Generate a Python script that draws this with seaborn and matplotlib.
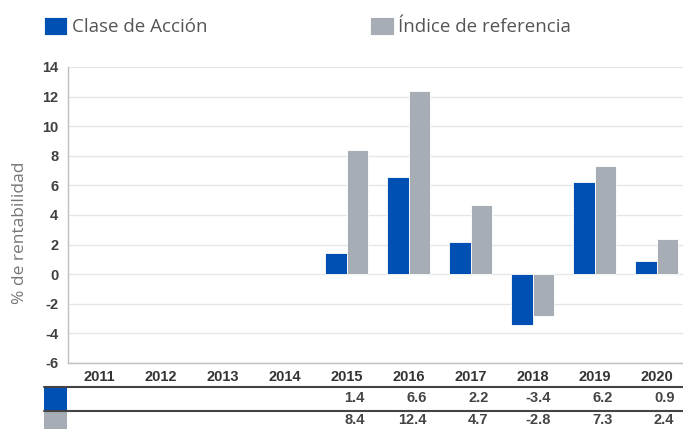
import numpy as np
import pandas as pd
import seaborn as sns
import matplotlib
matplotlib.use("Agg")
import matplotlib.pyplot as plt
from matplotlib.patches import Rectangle
from matplotlib.lines import Line2D
import matplotlib.transforms as mtransforms

# ---- data ----
years = ["2011", "2012", "2013", "2014", "2015", "2016", "2017", "2018", "2019", "2020"]
clase = [np.nan, np.nan, np.nan, np.nan, 1.4, 6.6, 2.2, -3.4, 6.2, 0.9]
indice = [np.nan, np.nan, np.nan, np.nan, 8.4, 12.4, 4.7, -2.8, 7.3, 2.4]
series_names = ["Clase de Acción", "Índice de referencia"]
colors = ["#0050B4", "#A6ADB4"]
ylabel = "% de rentabilidad"
yticks = [-6, -4, -2, 0, 2, 4, 6, 8, 10, 12, 14]

df = pd.DataFrame({
    "year": years * 2,
    "value": clase + indice,
    "serie": [series_names[0]] * len(years) + [series_names[1]] * len(years),
})

sns.set_theme(style="white")
plt.rcParams["font.family"] = ["Liberation Sans", "DejaVu Sans"]

W, H = 683, 429
fig = plt.figure(figsize=(W / 100, H / 100), dpi=100)
ax_left, ax_right = 68, 687.5
ax_top, ax_bot = 67, 363
ax = fig.add_axes([ax_left / W, 1 - ax_bot / H, (ax_right - ax_left) / W, (ax_bot - ax_top) / H])

sns.barplot(data=df, x="year", y="value", hue="serie", order=years,
            hue_order=series_names, palette=colors, width=0.69,
            errorbar=None, edgecolor="white", linewidth=0.6, saturation=1, ax=ax)

ax.set_ylim(-6, 14)
ax.set_xlim(-0.5, len(years) - 0.5)
ax.set_yticks(yticks)
ax.set_yticklabels([str(t) for t in yticks], fontsize=10.5, fontweight="bold", color="#404040")
ax.set_xticks(range(len(years)))
ax.set_xticklabels(years, fontsize=10.5, fontweight="bold", color="#333333")
ax.tick_params(axis="x", length=0, pad=5)
ax.tick_params(axis="y", length=0, pad=7)
ax.grid(axis="y", color="#e6e6e6", linewidth=1)
ax.set_axisbelow(True)
for s in ["top", "right"]:
    ax.spines[s].set_visible(False)
ax.spines["left"].set_color("#bfbfbf")
ax.spines["bottom"].set_color("#bfbfbf")
ax.spines["left"].set_linewidth(1)
ax.spines["bottom"].set_linewidth(1)
ax.set_xlabel("")
ax.set_ylabel(ylabel, fontsize=12.5, color="#777777", family=["Open Sans", "DejaVu Sans"])
ax.yaxis.set_label_coords((28 - ax_left) / (ax_right - ax_left), (ax_bot - 233) / (ax_bot - ax_top))

# ---- legend ----
handles, labels = ax.get_legend_handles_labels()
if ax.legend_:
    ax.legend_.remove()
leg = fig.legend(handles, labels, ncol=2, loc="upper left",
                 bbox_to_anchor=(43.5 / W, 1 - 17 / H), frameon=False,
                 prop={"family": ["Open Sans", "DejaVu Sans"], "size": 13.5},
                 handlelength=1.25, handleheight=1.1, handletextpad=0.25,
                 columnspacing=8.7, borderaxespad=0, borderpad=0)
for t in leg.get_texts():
    t.set_color("#555555")

# ---- data table below axis ----
trans = mtransforms.blended_transform_factory(ax.transData, fig.transFigure)
line_y = [386.5, 410.5]
for ly in line_y:
    fig.add_artist(Line2D([44 / W, 1], [1 - ly / H, 1 - ly / H], color="#444444", lw=1.5))
row_spans = [(387.5, 410), (411.5, 429)]
for (y0, y1), c in zip(row_spans, colors):
    fig.add_artist(Rectangle((44 / W, 1 - y1 / H), 23 / W, (y1 - y0) / H, color=c, lw=0))
row_centers = [398.5, 420.5]
for vals, yc in zip([clase, indice], row_centers):
    for i, v in enumerate(vals):
        if not np.isnan(v):
            ax.text(i + 0.29, 1 - yc / H, f"{v:.1f}", transform=trans, ha="right", va="center",
                    fontsize=10.5, fontweight="bold", color="#444444", clip_on=False)

fig.savefig("out.png", dpi=100)
